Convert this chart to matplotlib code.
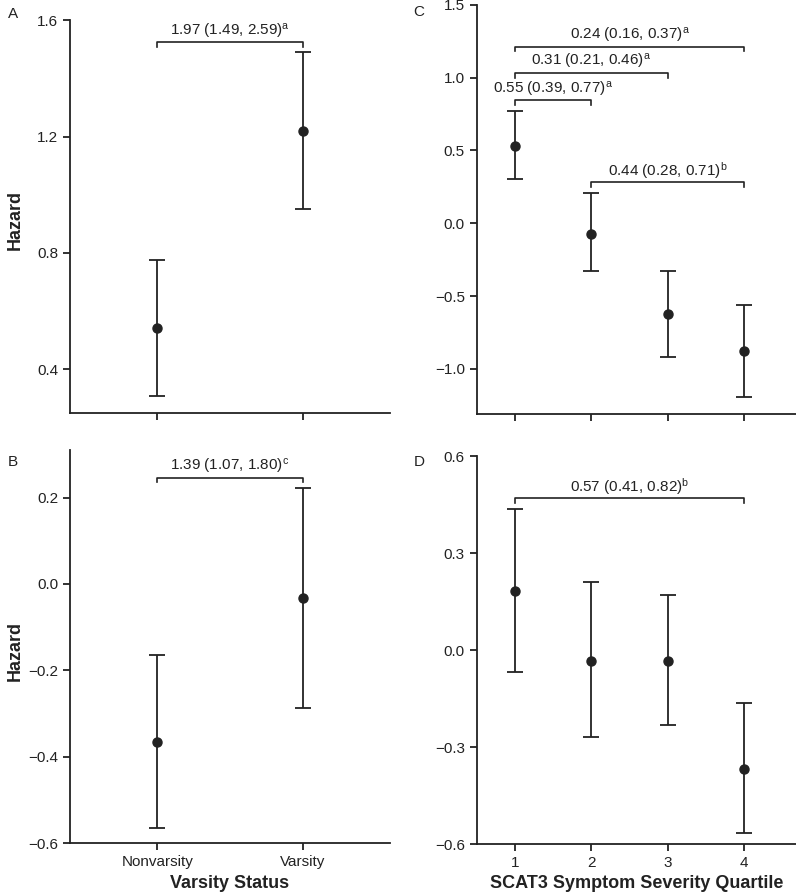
import numpy as np
import matplotlib.pyplot as plt

plt.rcParams['font.family'] = ['Liberation Sans', 'DejaVu Sans']
plt.rcParams['mathtext.fontset'] = 'custom'
plt.rcParams['mathtext.rm'] = 'Liberation Sans'
plt.rcParams['mathtext.it'] = 'Liberation Sans'

INK = '#222222'

# panel A: varsity status, hazard
varsity_labels = ['Nonvarsity', 'Varsity']
a_mid = [0.541, 1.218]
a_low = [0.307, 0.951]
a_high = [0.777, 1.490]
# brackets: (first group index, second group index, height, text)
a_brackets = [(0, 1, 1.525, '1.97 (1.49, 2.59)$^{\\mathrm{a}}$')]

# panel B
b_mid = [-0.365, -0.032]
b_low = [-0.565, -0.287]
b_high = [-0.165, 0.222]
b_brackets = [(0, 1, 0.246, '1.39 (1.07, 1.80)$^{\\mathrm{c}}$')]

# panel C: SCAT3 quartiles
quartiles = [1, 2, 3, 4]
c_mid = [0.534, -0.071, -0.625, -0.878]
c_low = [0.307, -0.326, -0.919, -1.193]
c_high = [0.771, 0.207, -0.326, -0.559]
c_brackets = [(0, 3, 1.214, '0.24 (0.16, 0.37)$^{\\mathrm{a}}$'),
              (0, 2, 1.035, '0.31 (0.21, 0.46)$^{\\mathrm{a}}$'),
              (0, 1, 0.846, '0.55 (0.39, 0.77)$^{\\mathrm{a}}$'),
              (1, 3, 0.283, '0.44 (0.28, 0.71)$^{\\mathrm{b}}$')]

# panel D
d_mid = [0.184, -0.033, -0.033, -0.367]
d_low = [-0.069, -0.269, -0.233, -0.566]
d_high = [0.437, 0.209, 0.171, -0.164]
d_brackets = [(0, 3, 0.470, '0.57 (0.41, 0.82)$^{\\mathrm{b}}$')]


def draw_panel(ax, x, mid, low, high, brackets, ylim, yticks, xlim):
    mid = np.array(mid)
    err = np.vstack([mid - np.array(low), np.array(high) - mid])
    ax.errorbar(x, mid, yerr=err, fmt='o', color=INK, ms=6.5,
                elinewidth=1.3, capsize=6, capthick=1.3)
    rng = ylim[1] - ylim[0]
    for i0, i1, yb, lab in brackets:
        drop = rng * 0.012
        ax.plot([x[i0], x[i0], x[i1], x[i1]], [yb - drop, yb, yb, yb - drop],
                color=INK, lw=1.2)
        ax.annotate(lab, ((x[i0] + x[i1]) / 2, yb), xytext=(0, 1),
                    textcoords='offset points', ha='center', va='bottom',
                    fontsize=11, color=INK)
    ax.set_ylim(*ylim)
    ax.set_xlim(*xlim)
    ax.set_yticks(yticks)
    ax.set_yticklabels([('%.1f' % v).replace('-', '\u2212') for v in yticks])
    ax.set_xticks(x)
    for s in ['top', 'right']:
        ax.spines[s].set_visible(False)
    for s in ['left', 'bottom']:
        ax.spines[s].set_linewidth(1.3)
        ax.spines[s].set_color(INK)
    ax.tick_params(direction='out', length=5, width=1.3, color=INK,
                   labelsize=11, labelcolor=INK)


fig = plt.figure(figsize=(7.96, 8.96), dpi=100)
axA = fig.add_axes([0.088, 0.539, 0.402, 0.4386])
axC = fig.add_axes([0.599, 0.538, 0.401, 0.4565])
axB = fig.add_axes([0.088, 0.0588, 0.402, 0.439])
axD = fig.add_axes([0.599, 0.058, 0.401, 0.433])

xv = list(range(len(varsity_labels)))
draw_panel(axA, xv, a_mid, a_low, a_high, a_brackets, (0.25, 1.6),
           [0.4, 0.8, 1.2, 1.6], (-0.6, 1.6))
draw_panel(axB, xv, b_mid, b_low, b_high, b_brackets, (-0.6, 0.31),
           [-0.6, -0.4, -0.2, 0.0, 0.2], (-0.6, 1.6))
draw_panel(axC, quartiles, c_mid, c_low, c_high, c_brackets, (-1.31, 1.5),
           [-1.0, -0.5, 0.0, 0.5, 1.0, 1.5], (0.5, 4.68))
draw_panel(axD, quartiles, d_mid, d_low, d_high, d_brackets, (-0.6, 0.6),
           [-0.6, -0.3, 0.0, 0.3, 0.6], (0.5, 4.68))

axA.set_xticklabels([])
axC.set_xticklabels([])
axB.set_xticklabels(varsity_labels)
axD.set_xticklabels([str(q) for q in quartiles])

for ax in (axA, axB):
    ax.set_ylabel('Hazard', fontsize=13, fontweight='bold', color=INK, va='center')
    ax.yaxis.set_label_coords(-55 / 320, 0.49)
axB.set_xlabel('Varsity Status', fontsize=13, fontweight='bold', color=INK, labelpad=4)
axD.set_xlabel('SCAT3 Symptom Severity Quartile', fontsize=13, fontweight='bold',
               color=INK, labelpad=4)

for lab, px, py in [('A', 13, 14), ('B', 13, 462), ('C', 419, 12), ('D', 419, 462)]:
    fig.text(px / 796, 1 - py / 896, lab, fontsize=11, color=INK, ha='center', va='center')

fig.savefig('out.png', dpi=100)
